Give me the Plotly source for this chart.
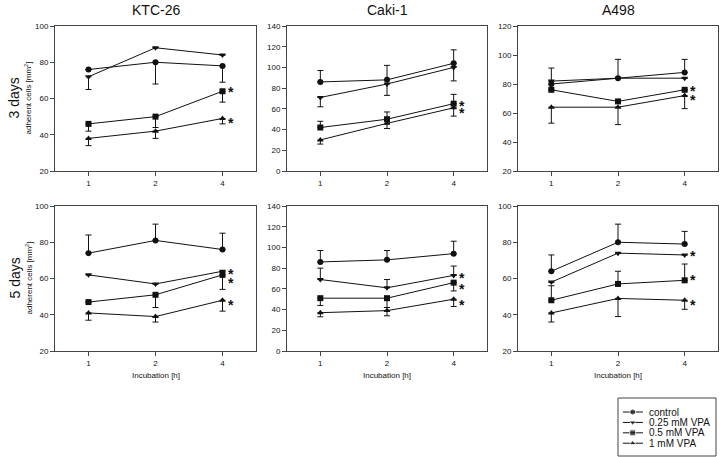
import plotly.graph_objects as go

# x categories (incubation time, h)
incubation = ["1", "2", "4"]
series_names = ["control", "0.25 mM VPA", "0.5 mM VPA", "1 mM VPA"]
symbols = ["circle", "triangle-down", "square", "triangle-up"]

# means per series: control, 0.25, 0.5, 1 mM
ktc_3d = [[76, 80, 78], [72, 88, 84], [46, 50, 64], [38, 42, 49]]
caki_3d = [[86, 88, 104], [71, 84, 100], [42, 50, 65], [30, 46, 61]]
a498_3d = [[80, 84, 88], [82, 84, 84], [76, 68, 76], [64, 64, 72]]
ktc_5d = [[74, 81, 76], [62, 57, 64], [47, 51, 62], [41, 39, 48]]
caki_5d = [[86, 88, 94], [69, 61, 73], [51, 51, 66], [37, 39, 50]]
a498_5d = [[64, 80, 79], [58, 74, 73], [48, 57, 59], [41, 49, 48]]

# where each (one-sided) error bar ends, None = no bar
ktc_3d_err = [[None, 68, 69], [65, None, None], [42, 44, 58], [34, 38, 46]]
caki_3d_err = [[97, 102, 117], [62, 73, 87], [48, 57, 74], [26, 41, 53]]
a498_3d_err = [[91, 97, 97], [None, None, None], [None, None, None], [53, 52, 63]]
ktc_5d_err = [[84, 90, 85], [None, None, None], [None, 44, 54], [37, 36, 42]]
caki_5d_err = [[97, 97, 106], [80, 69, 82], [44, 42, 58], [33, 34, 43]]
a498_5d_err = [[73, 90, 86], [None, None, None], [56, 64, 68], [36, 39, 43]]

# significance asterisks next to the 4 h points (value level where each sits)
ktc_3d_star = [65, 48]
caki_3d_star = [66, 59]
a498_3d_star = [77, 71]
ktc_5d_star = [64, 59, 47]
caki_5d_star = [73, 63, 47]
a498_5d_star = [74, 61, 47]

titles = ["KTC-26", "Caki-1", "A498"]
row_labels = ["3 days", "5 days"]
y_ranges = [[20, 100], [0, 140], [20, 120], [20, 100], [0, 140], [20, 100]]

panels = [
    (ktc_3d, ktc_3d_err, ktc_3d_star),
    (caki_3d, caki_3d_err, caki_3d_star),
    (a498_3d, a498_3d_err, a498_3d_star),
    (ktc_5d, ktc_5d_err, ktc_5d_star),
    (caki_5d, caki_5d_err, caki_5d_star),
    (a498_5d, a498_5d_err, a498_5d_star),
]

W, H = 720, 457
col_px = [(55, 256), (287, 487), (518, 718)]
row_px = [(26, 171), (206, 351)]
legend_px = (618, 398, 716, 456)  # left, top, right, bottom of legend box
FONT = "Arial, Liberation Sans, sans-serif"
INK = "#111"

fig = go.Figure()
layout = {}
annotations = []
shapes = []


def label(x, y, text, size, angle=0):
    return dict(x=x / W, y=1 - y / H, xref="paper", yref="paper", text=text,
                textangle=angle, xanchor="center", yanchor="middle", showarrow=False,
                font=dict(size=size, color=INK, family=FONT))


for i, (means, errs, stars) in enumerate(panels):
    r, c = divmod(i, 3)
    n = i + 1
    xa = "x" if n == 1 else f"x{n}"
    ya = "y" if n == 1 else f"y{n}"
    for s in range(4):
        plus, minus = [], []
        for m, e in zip(means[s], errs[s]):
            if e is None:
                plus.append(None)
                minus.append(None)
            elif e >= m:
                plus.append(e - m)
                minus.append(0)
            else:
                plus.append(0)
                minus.append(m - e)
        fig.add_trace(go.Scatter(
            x=incubation, y=means[s], xaxis=xa, yaxis=ya,
            mode="lines+markers", name=series_names[s], showlegend=False,
            line=dict(color=INK, width=1),
            marker=dict(symbol=symbols[s], size=6, color=INK),
            error_y=dict(type="data", symmetric=False, array=plus, arrayminus=minus,
                         color=INK, thickness=1, width=3),
        ))
    for sy in stars:
        annotations.append(dict(x=incubation.index("4"), y=sy, xref=xa, yref=ya,
                                text="<b>*</b>", showarrow=False, xshift=8, yshift=-3,
                                xanchor="center", yanchor="middle",
                                font=dict(size=14, color=INK, family=FONT)))

    x0, x1 = col_px[c]
    y0, y1 = row_px[r]
    axis_common = dict(showline=True, mirror=True, linecolor="#444", linewidth=1,
                       showgrid=False, zeroline=False, ticks="outside", ticklen=4,
                       tickcolor="#444", tickfont=dict(size=8, color=INK, family=FONT))
    layout["xaxis" if n == 1 else f"xaxis{n}"] = dict(
        domain=[x0 / W, x1 / W], anchor=ya, type="category", range=[-0.5, 2.5],
        **axis_common)
    layout["yaxis" if n == 1 else f"yaxis{n}"] = dict(
        domain=[1 - y1 / H, 1 - y0 / H], anchor=xa, range=y_ranges[i], dtick=20,
        **axis_common)

# column titles and x-axis titles
for c, t in enumerate(titles):
    x0, x1 = col_px[c]
    annotations.append(label((x0 + x1) / 2, 10, t, 14))
    annotations.append(label((x0 + x1) / 2, 375, "Incubation [h]", 8))

# row labels
for r, t in enumerate(row_labels):
    y0, y1 = row_px[r]
    annotations.append(label(14, (y0 + y1) / 2, t, 14, -90))
    annotations.append(label(28, (y0 + y1) / 2, "adherent cells [mm<sup>2</sup>]", 8, -90))

# hand-made legend: box, line samples on a hidden axis, labels
lx0, ly0, lx1, ly1 = legend_px
shapes.append(dict(type="rect", xref="paper", yref="paper",
                   x0=lx0 / W, x1=lx1 / W, y0=1 - ly1 / H, y1=1 - ly0 / H,
                   line=dict(color="#444", width=1), fillcolor="white", layer="below"))
layout["xaxis7"] = dict(domain=[lx0 / W, lx1 / W], anchor="y7", range=[0, 1], visible=False)
layout["yaxis7"] = dict(domain=[1 - ly1 / H, 1 - ly0 / H], anchor="x7", range=[5.23, -0.35],
                        visible=False)
for s, name in enumerate(series_names):
    fig.add_trace(go.Scatter(
        x=[0.05, 0.15, 0.255], y=[s + 1] * 3, xaxis="x7", yaxis="y7",
        mode="lines+markers", showlegend=False, hoverinfo="skip",
        line=dict(color=INK, width=1),
        marker=dict(symbol=symbols[s], size=[0, 6, 0], color=INK),
    ))
    annotations.append(dict(x=0.3, y=s + 1, xref="x7", yref="y7", text=name,
                            xanchor="left", yanchor="middle", showarrow=False,
                            font=dict(size=10, color=INK, family=FONT)))

fig.update_layout(
    width=W, height=H, margin=dict(l=0, r=0, t=0, b=0, autoexpand=False),
    paper_bgcolor="white", plot_bgcolor="white",
    font=dict(family=FONT, color=INK),
    showlegend=False,
    annotations=annotations,
    shapes=shapes,
    **layout,
)

# the page's default 8px body margin would shift the 720x457 figure off the window
fig.write_html("out.html", config={"displayModeBar": False},
               post_script="document.body.style.margin='0';")
